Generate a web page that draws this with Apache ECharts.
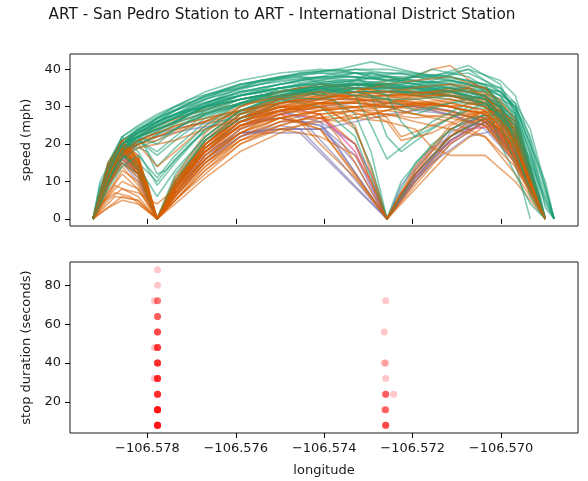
<!DOCTYPE html>
<html>
<head>
<meta charset="utf-8">
<script src="https://cdn.jsdelivr.net/npm/echarts@6/dist/echarts.min.js"></script>
<style>html,body{margin:0;padding:0;background:#fff;}#c{width:588px;height:481px;}</style>
</head>
<body>
<div id="c"></div>
<script>
// Longitude sample positions (index -> longitude)
const lonGrid = [-106.57923, -106.57907, -106.57889, -106.57873, -106.57857, -106.57839, -106.57821, -106.57801,
  -106.57778, -106.57758, -106.57737, -106.57703, -106.57669, -106.57631, -106.57590, -106.57545, -106.57500,
  -106.57455, -106.57409, -106.57369, -106.57330, -106.57294, -106.57258, -106.57226, -106.57194, -106.57156,
  -106.57115, -106.57074, -106.57036, -106.57002, -106.56968, -106.56934, -106.56900, -106.56880];

// Trips: [lonGrid index, speed mph]
const greenTrips = [
  [[0,0],[2,13],[4,20],[6,23],[8,26],[10,29],[12,32],[14,35],[16,37],[18,38],[20,38],[22,37],[24,36],[26,35],[28,33],[30,26],[32,0]],
  [[0,0],[1,7],[3,16],[5,21],[8,24],[11,28],[13,32],[15,34],[17,36],[19,37],[21,36],[23,35],[25,36],[27,35],[29,30],[31,14],[32,0]],
  [[0,0],[2,11],[4,18],[7,22],[10,26],[12,30],[14,33],[16,35],[18,36],[20,37],[22,36],[24,35],[26,33],[28,31],[30,22],[32,0]],
  [[0,0],[2,14],[5,22],[8,27],[11,31],[14,36],[17,39],[20,40],[22,39],[25,38],[27,37],[29,33],[30,28],[31,15],[33,0]],
  [[0,0],[2,11],[4,18],[6,15],[8,0],[9,5],[10,10],[12,20],[14,28],[16,33],[19,35],[22,35],[25,34],[28,31],[30,23],[32,0]],
  [[0,0],[1,8],[3,15],[6,20],[9,23],[12,28],[15,32],[18,34],[21,35],[23,34],[26,33],[28,31],[30,24],[32,0]],
  [[0,0],[2,12],[4,19],[6,22],[8,14],[10,19],[12,26],[14,31],[16,34],[19,36],[22,36],[25,35],[28,32],[30,23],[32,0]],
  [[0,0],[2,10],[4,17],[6,15],[8,10],[10,16],[12,24],[15,31],[18,35],[21,36],[24,35],[27,34],[29,31],[31,16],[32,0]],
  [[0,0],[2,12],[4,19],[6,22],[8,25],[11,29],[14,33],[17,35],[19,31],[20,24],[21,14],[22,0],[23,8],[24,15],[26,24],[28,28],[30,22],[32,0]],
  [[0,0],[2,15],[4,22],[7,26],[10,30],[13,34],[16,38],[19,40],[21,42],[23,40],[25,38],[27,39],[29,35],[30,29],[32,4],[33,0]],
  [[0,0],[1,9],[3,17],[6,22],[9,26],[12,31],[15,35],[17,37],[20,38],[23,37],[26,36],[28,35],[29,31],[30,26],[32,0]],
  [[0,0],[2,13],[4,20],[6,16],[7,8],[8,0],[10,12],[12,22],[14,29],[17,33],[20,34],[23,34],[26,33],[28,31],[30,21],[32,0]],
  [[0,0],[2,13],[5,21],[8,25],[11,29],[14,33],[17,36],[20,36],[22,30],[24,28],[26,31],[28,31],[30,21],[32,0]],
  [[0,0],[2,12],[4,19],[7,23],[10,27],[13,31],[16,34],[19,35],[21,33],[22,22],[23,18],[25,24],[27,30],[29,29],[31,12],[32,0]],
  [[0,0],[2,11],[5,20],[8,24],[11,28],[14,32],[17,35],[20,36],[23,36],[26,37],[28,36],[29,35],[30,31],[31,19],[32,0]],
  [[0,0],[2,14],[4,21],[6,24],[9,28],[12,33],[15,37],[18,39],[21,39],[24,37],[27,36],[29,34],[30,30],[32,10],[33,0]],
  [[0,0],[2,9],[4,15],[6,12],[8,0],[10,9],[12,19],[14,26],[16,31],[18,34],[21,35],[24,35],[27,34],[29,30],[31,12],[32,0]],
  [[0,0],[1,8],[3,16],[5,20],[7,18],[8,12],[9,13],[11,20],[13,27],[15,31],[17,34],[20,35],[23,34],[26,34],[28,32],[30,24],[32,0]],
  [[0,0],[2,11],[4,18],[7,22],[10,26],[13,30],[16,32],[18,30],[20,22],[22,0],[24,12],[26,22],[28,27],[30,20],[32,0]],
  [[0,0],[2,12],[4,20],[6,23],[9,27],[12,31],[14,34],[16,36],[18,37],[20,36],[22,35],[24,34],[26,35],[28,33],[29,27],[30,19],[31,7],[32,0]],
  [[0,0],[2,13],[4,21],[7,25],[10,28],[13,32],[16,35],[19,37],[22,38],[25,38],[27,41],[29,36],[30,28],[32,0]],
  [[0,0],[2,10],[4,18],[7,21],[10,25],[13,29],[16,33],[19,34],[22,34],[24,33],[26,32],[28,30],[30,22],[32,0]],
  [[0,0],[2,12],[4,18],[6,14],[8,0],[10,11],[12,21],[15,30],[18,34],[21,34],[24,34],[26,33],[28,31],[30,25],[32,0]],
  [[0,0],[2,12],[4,19],[6,22],[8,24],[11,27],[14,31],[17,34],[20,35],[23,35],[26,34],[28,33],[29,20],[30,12],[31,4],[32,0]],
  [[0,0],[2,14],[4,21],[6,24],[9,28],[12,32],[15,36],[18,38],[20,38],[22,37],[24,37],[26,36],[28,34],[30,30],[31,22],[33,0]],
  [[0,0],[2,11],[4,18],[6,21],[8,18],[10,22],[12,28],[14,32],[17,35],[20,36],[23,35],[26,34],[28,32],[30,22],[32,0]],
  [[0,0],[2,13],[4,20],[6,23],[9,27],[12,30],[15,33],[18,34],[20,28],[21,18],[22,0],[23,10],[25,20],[27,27],[29,28],[30,24],[32,0]],
  [[0,0],[2,12],[4,20],[7,24],[10,28],[13,31],[16,34],[19,36],[22,36],[25,35],[27,35],[29,34],[30,30],[31,20],[32,8],[33,0]],
  [[0,0],[2,13],[4,20],[6,23],[9,26],[12,30],[15,33],[18,35],[21,36],[24,35],[26,35],[28,30],[29,25],[30,15],[31,0]],
  [[0,0],[2,12],[5,21],[8,25],[11,30],[14,34],[17,37],[20,39],[23,39],[26,38],[28,36],[29,34],[30,29],[31,14],[32,0]],
  [[0,0],[2,9],[3,14],[5,19],[7,21],[9,24],[11,28],[13,33],[15,37],[17,38],[19,35],[21,39],[23,37],[25,40],[27,38],[29,33],[30,27],[32,0]],
  [[0,0],[2,14],[4,22],[6,18],[8,9],[10,15],[12,24],[14,30],[16,35],[18,37],[20,39],[22,37],[24,38],[26,37],[28,35],[30,28],[31,18],[33,0]],
  [[0,0],[1,10],[3,18],[5,22],[7,25],[9,27],[11,30],[13,34],[15,36],[17,39],[19,40],[21,38],[23,39],[25,37],[27,40],[29,37],[30,33],[31,21],[32,3],[33,0]],
  [[0,0],[2,12],[4,19],[6,21],[8,17],[10,21],[12,27],[15,33],[18,32],[20,35],[22,33],[24,36],[26,34],[28,31],[30,24],[32,0]],
  [[0,0],[2,13],[4,20],[6,24],[8,27],[10,30],[12,34],[14,37],[16,39],[18,40],[20,39],[22,38],[24,36],[26,37],[28,35],[29,31],[30,20],[31,6],[32,0]],
  [[0,0],[2,10],[4,16],[6,19],[8,21],[10,24],[12,28],[14,31],[16,33],[18,35],[20,33],[21,25],[22,16],[23,19],[25,26],[27,31],[29,30],[30,25],[32,0]],
  [[0,0],[2,12],[4,20],[6,23],[8,26],[10,28],[12,31],[14,34],[16,35],[18,33],[20,36],[22,35],[24,33],[26,34],[28,32],[29,28],[30,18],[31,8],[32,0]],
  [[0,0],[2,11],[4,17],[6,14],[8,6],[10,13],[12,22],[14,29],[16,33],[18,36],[20,37],[22,38],[24,37],[26,35],[28,33],[30,27],[32,0]],
  [[0,0],[2,14],[4,22],[6,25],[8,28],[11,32],[14,36],[17,38],[20,37],[23,36],[25,38],[27,36],[29,33],[30,31],[31,24],[33,0]],
  [[0,0],[2,12],[4,19],[6,22],[8,25],[10,27],[12,29],[14,32],[16,33],[18,35],[20,34],[22,32],[24,29],[26,31],[28,33],[30,26],[32,0]],
  [[0,0],[2,11],[4,18],[6,13],[8,0],[10,10],[12,21],[14,28],[16,32],[18,35],[20,36],[22,37],[24,36],[26,35],[28,34],[30,27],[32,0]],
  [[0,0],[2,13],[4,20],[6,23],[8,26],[10,29],[12,33],[14,36],[16,38],[18,39],[20,38],[22,33],[23,26],[24,22],[26,27],[28,31],[30,23],[32,0]],
  [[0,0],[2,10],[4,18],[6,22],[8,24],[10,26],[12,30],[14,33],[16,36],[18,38],[20,40],[22,40],[24,39],[26,38],[28,36],[29,30],[30,21],[31,11],[32,0]],
  [[0,0],[2,12],[4,20],[6,22],[8,20],[10,24],[12,29],[14,33],[16,35],[18,36],[20,35],[22,36],[24,38],[26,39],[27,40],[28,37],[29,34],[30,30],[32,5],[33,0]],
  [[0,0],[2,8],[4,14],[6,17],[8,11],[10,17],[12,25],[14,31],[16,34],[18,35],[20,33],[22,32],[24,32],[26,33],[28,32],[30,25],[32,0]]
];
const orangeTrips = [
  [[0,0],[2,12],[4,19],[6,15],[8,0],[10,8],[12,19],[14,27],[16,31],[18,33],[20,33],[22,32],[24,31],[26,30],[28,27],[30,18],[32,0]],
  [[0,0],[2,15],[4,21],[5,20],[7,10],[8,0],[10,10],[12,21],[14,28],[17,32],[20,32],[23,31],[26,29],[28,26],[30,17],[32,0]],
  [[0,0],[2,10],[4,16],[6,13],[8,0],[10,6],[12,16],[14,24],[16,29],[19,31],[22,31],[25,30],[28,26],[30,16],[32,0]],
  [[0,0],[3,16],[5,19],[7,10],[8,0],[10,9],[12,18],[14,26],[16,30],[18,33],[21,34],[24,34],[27,32],[29,29],[30,20],[32,0]],
  [[0,0],[2,7],[4,13],[6,10],[8,0],[10,5],[12,14],[14,22],[16,27],[19,30],[22,30],[25,29],[28,25],[30,15],[32,0]],
  [[0,0],[2,3],[4,6],[6,5],[8,0],[10,5],[12,13],[14,21],[16,26],[18,29],[21,30],[24,30],[27,28],[29,24],[30,14],[32,0]],
  [[0,0],[2,14],[4,20],[6,14],[8,0],[10,10],[12,22],[14,29],[16,32],[18,31],[20,24],[21,14],[22,0],[24,11],[26,22],[28,28],[30,18],[32,0]],
  [[0,0],[2,11],[4,17],[6,13],[8,0],[10,8],[12,18],[14,26],[16,29],[18,28],[20,20],[22,0],[24,10],[26,21],[28,26],[30,17],[32,0]],
  [[0,0],[2,12],[4,20],[6,17],[8,0],[10,9],[12,21],[14,29],[17,34],[20,36],[23,35],[26,36],[28,33],[30,22],[32,0]],
  [[0,0],[2,3],[4,5],[6,4],[8,0],[10,6],[12,15],[14,23],[16,28],[18,31],[21,32],[24,31],[27,30],[29,26],[30,16],[32,0]],
  [[0,0],[2,13],[4,19],[6,15],[8,0],[10,10],[12,20],[14,27],[16,31],[19,33],[22,33],[25,34],[27,33],[29,29],[30,21],[32,0]],
  [[0,0],[2,9],[4,15],[6,11],[8,0],[9,3],[11,12],[13,20],[15,26],[17,28],[19,26],[21,28],[23,30],[25,31],[27,29],[29,24],[30,18],[32,0]],
  [[0,0],[2,14],[4,21],[6,15],[8,0],[10,9],[12,20],[14,27],[16,30],[18,28],[19,22],[20,15],[22,0],[24,9],[26,20],[28,26],[30,16],[32,0]],
  [[0,0],[2,10],[4,16],[6,12],[8,0],[10,8],[12,18],[14,25],[16,28],[18,24],[22,0],[24,12],[26,22],[28,27],[30,17],[32,0]],
  [[0,0],[2,11],[4,19],[6,14],[8,0],[10,9],[12,20],[14,27],[16,30],[18,31],[20,31],[22,30],[24,28],[26,26],[28,22],[30,12],[32,0]],
  [[0,0],[2,7],[4,12],[6,8],[8,0],[10,6],[12,15],[14,22],[16,26],[18,27],[20,27],[22,26],[24,24],[25,19],[26,17],[28,17],[30,10],[32,0]],
  [[0,0],[2,13],[4,20],[6,16],[8,0],[10,8],[12,19],[14,27],[17,31],[20,34],[22,37],[24,38],[25,40],[26,41],[28,34],[30,20],[32,0]],
  [[0,0],[2,12],[4,19],[6,13],[8,0],[10,8],[12,19],[14,26],[16,29],[18,30],[20,25],[22,0],[24,13],[26,24],[28,29],[30,19],[32,0]],
  [[0,0],[2,14],[4,19],[6,14],[8,0],[10,9],[12,20],[14,27],[16,30],[19,31],[22,32],[25,31],[28,28],[30,19],[32,0]],
  [[0,0],[3,9],[6,6],[8,0],[10,7],[12,17],[14,24],[16,28],[18,30],[21,32],[24,33],[27,33],[29,30],[30,23],[32,0]],
  [[0,0],[2,10],[4,17],[6,13],[8,0],[10,10],[12,21],[14,28],[16,32],[18,34],[20,35],[22,34],[24,33],[26,32],[28,30],[30,24],[32,0]],
  [[0,0],[2,12],[4,18],[6,12],[8,0],[10,7],[12,17],[14,25],[16,29],[19,30],[21,27],[23,28],[25,31],[27,32],[29,28],[30,20],[32,0]],
  [[0,0],[2,14],[4,20],[6,22],[8,24],[11,27],[14,31],[17,33],[20,34],[23,33],[26,33],[28,31],[30,22],[32,0]],
  [[0,0],[2,12],[4,18],[6,21],[8,23],[11,26],[14,29],[17,31],[20,31],[23,30],[26,31],[28,29],[30,20],[32,0]],
  [[0,0],[2,15],[4,21],[6,23],[8,25],[11,28],[14,32],[17,35],[20,36],[22,35],[24,34],[26,33],[28,30],[30,21],[32,0]],
  [[0,0],[2,11],[4,18],[6,20],[8,14],[10,18],[12,25],[14,29],[17,32],[20,33],[23,33],[26,34],[28,34],[30,25],[32,0]],
  [[0,0],[2,10],[4,17],[6,20],[8,22],[11,25],[14,29],[17,32],[20,33],[22,27],[23,22],[25,25],[27,29],[29,28],[30,21],[32,0]],
  [[0,0],[2,13],[4,19],[7,22],[10,25],[13,28],[16,31],[19,32],[22,33],[25,34],[27,35],[29,32],[30,26],[32,0]],
  [[0,0],[2,5],[4,8],[6,7],[8,4],[10,8],[12,16],[14,23],[16,27],[18,29],[20,30],[23,31],[26,30],[28,28],[30,18],[32,0]],
  [[0,0],[1,4],[3,7],[5,6],[8,0],[10,5],[12,12],[14,20],[16,25],[18,28],[20,29],[22,28],[24,27],[26,28],[28,27],[30,17],[32,0]],
  [[0,0],[2,12],[4,19],[6,16],[8,0],[9,4],[11,14],[13,22],[15,27],[17,30],[19,32],[21,34],[23,32],[25,33],[27,35],[29,30],[30,24],[32,0]],
  [[0,0],[2,13],[4,20],[6,17],[8,0],[10,7],[12,15],[14,21],[16,24],[18,22],[20,17],[21,10],[22,0],[23,7],[25,18],[27,26],[29,27],[30,19],[32,0]],
  [[0,0],[2,8],[4,17],[6,21],[8,22],[10,24],[12,26],[14,28],[16,30],[18,29],[20,30],[22,31],[24,33],[26,35],[28,33],[30,23],[32,0]],
  [[0,0],[2,11],[4,18],[6,14],[8,0],[10,8],[12,18],[14,25],[16,29],[18,31],[20,30],[22,26],[23,21],[25,23],[27,28],[29,29],[30,22],[32,0]],
  [[0,0],[2,13],[4,20],[6,16],[8,0],[10,11],[12,23],[14,30],[16,34],[18,36],[20,35],[22,34],[24,35],[26,36],[28,35],[30,25],[32,0]],
  [[0,0],[2,10],[4,15],[6,12],[8,0],[10,7],[12,16],[14,23],[16,27],[17,26],[18,20],[20,11],[22,0],[24,8],[26,18],[28,25],[30,16],[32,0]],
  [[0,0],[2,6],[4,10],[6,8],[8,0],[10,4],[12,11],[14,18],[16,23],[18,27],[20,29],[22,30],[24,31],[26,32],[28,30],[30,22],[32,0]],
  [[0,0],[2,12],[4,18],[6,20],[8,21],[10,23],[12,26],[14,30],[16,33],[18,34],[20,32],[22,33],[24,32],[26,30],[28,31],[30,26],[31,12],[32,0]],
  [[0,0],[2,14],[4,21],[6,15],[8,0],[10,9],[12,19],[14,26],[16,29],[18,32],[20,34],[22,36],[24,37],[26,38],[28,35],[30,27],[32,0]],
  [[0,0],[2,9],[4,14],[6,9],[8,0],[10,5],[12,13],[14,20],[16,24],[18,26],[20,28],[22,28],[24,26],[26,24],[28,22],[30,14],[32,0]],
  [[0,0],[2,11],[4,18],[6,14],[8,0],[10,10],[12,20],[14,28],[16,32],[18,33],[20,32],[22,31],[24,32],[26,33],[28,32],[29,29],[30,24],[32,0]],
  [[0,0],[2,13],[4,19],[6,13],[8,0],[10,8],[12,18],[14,25],[16,27],[18,24],[19,18],[20,12],[22,0],[24,14],[26,25],[28,29],[30,20],[32,0]],
  [[0,0],[2,12],[4,17],[6,19],[8,20],[10,21],[12,24],[14,27],[16,29],[18,31],[20,33],[22,34],[24,33],[26,31],[28,29],[30,21],[32,0]],
  [[0,0],[3,6],[6,5],[8,0],[10,6],[12,14],[14,21],[16,25],[18,28],[20,29],[22,29],[24,28],[26,27],[28,25],[30,15],[32,0]],
  [[0,0],[2,11],[4,19],[6,16],[8,0],[10,9],[12,19],[14,26],[16,30],[18,30],[20,27],[22,29],[24,31],[26,30],[28,28],[30,19],[32,0]]
];
const purpleTrips = [
  [[0,0],[2,10],[4,17],[6,12],[8,0],[10,8],[12,18],[14,23],[16,24],[18,24],[19,20],[20,15],[22,0],[24,10],[26,20],[28,26],[30,17],[32,0]],
  [[0,0],[2,12],[4,18],[6,13],[8,0],[10,7],[12,16],[14,23],[16,23],[17,23],[22,0],[24,12],[26,22],[28,27],[30,18],[32,0]],
  [[0,0],[2,9],[4,15],[6,10],[8,0],[10,6],[12,15],[14,22],[16,26],[18,26],[20,20],[22,0],[23,6],[25,15],[27,22],[29,24],[30,16],[32,0]],
  [[0,0],[2,11],[4,17],[6,21],[8,23],[11,25],[14,27],[16,29],[18,26],[22,0],[24,11],[26,21],[28,27],[30,17],[32,0]],
  [[0,0],[2,10],[4,16],[6,11],[8,0],[10,7],[12,17],[14,24],[16,28],[18,30],[20,31],[22,30],[24,30],[26,29],[28,26],[30,16],[32,0]],
  [[0,0],[2,12],[4,19],[6,14],[8,0],[10,8],[12,19],[14,26],[16,29],[17,27],[19,16],[22,0],[24,10],[26,23],[28,28],[30,18],[32,0]],
  [[0,0],[2,11],[4,18],[6,13],[8,0],[10,9],[12,20],[14,27],[16,31],[18,32],[20,32],[22,31],[24,30],[26,28],[28,24],[30,15],[32,0]],
  [[0,0],[2,9],[4,16],[6,20],[8,22],[11,24],[14,26],[16,27],[18,25],[20,17],[22,0],[24,13],[26,24],[28,28],[30,19],[32,0]],
  [[0,0],[2,11],[4,17],[6,13],[8,0],[10,8],[12,17],[14,23],[16,24],[18,24],[20,26],[22,28],[24,29],[26,28],[28,25],[30,16],[32,0]],
  [[0,0],[2,10],[4,16],[6,12],[8,0],[10,7],[12,16],[14,22],[16,25],[17,24],[22,0],[24,11],[26,21],[28,26],[30,17],[32,0]],
  [[0,0],[2,12],[4,18],[6,14],[8,0],[10,9],[12,19],[14,25],[16,27],[18,25],[19,19],[22,0],[23,9],[25,19],[27,25],[29,26],[30,18],[32,0]]
];
const pinkTrips = [
  [[0,0],[2,11],[4,18],[6,13],[8,0],[10,9],[12,20],[14,27],[16,30],[18,28],[20,18],[22,0],[23,7],[25,17],[27,24],[29,25],[30,17],[32,0]],
  [[0,0],[2,10],[4,17],[6,12],[8,0],[10,8],[12,18],[14,25],[16,28],[18,27],[20,20],[21,12],[22,0],[24,12],[26,22],[28,27],[30,18],[32,0]]
];

// Stop events: longitude and stop duration (s)
const stopLon = [
  -106.57777,-106.57777,-106.57777,-106.57777,-106.57777,-106.57777,-106.57777,-106.57777,-106.57777,-106.57777,
  -106.57777,-106.57777,-106.57777,-106.57777,-106.57777,-106.57777,-106.57777,-106.57777,-106.57777,-106.57777,
  -106.57777,-106.57777,-106.57777,-106.57777,-106.57777,-106.57777,-106.57777,
  -106.57777,-106.57777,-106.57777,-106.57777,-106.57777,-106.57777,-106.57777,-106.57784,
  -106.57777,-106.57777,-106.57777,-106.57777,-106.57777,-106.57777,-106.57777,
  -106.57777,-106.57777,-106.57777,-106.57777,-106.57777,-106.57777,-106.57784,
  -106.57777,-106.57777,-106.57777,-106.57777,-106.57777,
  -106.57777,-106.57777,-106.57777,-106.57777,
  -106.57777,-106.57777,-106.57777,-106.57784,
  -106.57777,-106.57777,
  -106.57261,-106.57261,-106.57261,-106.57261,-106.57261,
  -106.57261,-106.57261,-106.57261,-106.57264,
  -106.57261,-106.57261,-106.57261,-106.57261,-106.57243,
  -106.57261,
  -106.57261,-106.57264,
  -106.57264,
  -106.57261
];
const stopDur = [
  8,8,8,8,8,8,8,8,8,8,
  16,16,16,16,16,16,16,16,16,16,
  24,24,24,24,24,24,24,
  32,32,32,32,32,32,32,32,
  40,40,40,40,40,40,40,
  48,48,48,48,48,48,48,
  56,56,56,56,56,
  64,64,64,64,
  72,72,72,72,
  80,88,
  8,8,8,8,8,
  16,16,16,16,
  24,24,24,24,24,
  32,
  40,40,
  56,
  72
];

const xTicks = [-106.578, -106.576, -106.574, -106.572, -106.570];
const speedTicks = [0, 10, 20, 30, 40];
const durTicks = [20, 40, 60, 80];

const palette = ['#1b9e77', '#d95f02', '#7570b3', '#e7298a'];
const FONT = 'DejaVu Sans';
const TXT = '#1a1a1a';

function xAxisCfg(idx, showLabels) {
  return {
    type: 'value', gridIndex: idx,
    min: -106.57975, max: -106.56826,
    splitLine: { show: false },
    axisLine: { show: false },
    axisTick: { show: true, inside: false, length: 5, customValues: xTicks, lineStyle: { color: '#000', width: 1 } },
    axisLabel: {
      show: showLabels, customValues: xTicks, margin: 9,
      color: TXT, fontFamily: FONT, fontSize: 13,
      formatter: v => '\u2212' + Math.abs(v).toFixed(3)
    },
    name: showLabels ? 'longitude' : '', nameLocation: 'middle', nameGap: 31,
    nameTextStyle: { color: TXT, fontFamily: FONT, fontSize: 13 }
  };
}
function yAxisCfg(idx, min, max, ticks, name) {
  return {
    type: 'value', gridIndex: idx, min: min, max: max,
    splitLine: { show: false },
    axisLine: { show: false },
    axisTick: { show: true, length: 5, customValues: ticks, lineStyle: { color: '#000', width: 1 } },
    axisLabel: { customValues: ticks, margin: 9, color: TXT, fontFamily: FONT, fontSize: 13 },
    name: name, nameLocation: 'middle', nameGap: 36, nameRotate: 90,
    nameTextStyle: { color: TXT, fontFamily: FONT, fontSize: 13 }
  };
}

// Interleave groups for drawing order
const groups = [greenTrips, orangeTrips, purpleTrips, pinkTrips];
const ordered = [];
const maxLen = Math.max(...groups.map(g => g.length));
for (let i = 0; i < maxLen; i++) {
  groups.forEach((g, gi) => { if (i < g.length) ordered.push({ g: gi, pts: g[i] }); });
}

const series = ordered.map(t => ({
  type: 'line', xAxisIndex: 0, yAxisIndex: 0,
  data: t.pts.map(p => [lonGrid[p[0]], p[1]]),
  symbol: 'none', silent: true, animation: false,
  lineStyle: { color: palette[t.g], width: 1.6, opacity: 0.55 },
  z: 2
}));
series.push({
  type: 'scatter', xAxisIndex: 1, yAxisIndex: 1,
  data: stopLon.map((x, i) => [x, stopDur[i]]),
  symbol: 'circle', symbolSize: 7, silent: true, animation: false,
  itemStyle: { color: 'rgb(255,0,0)', opacity: 0.22 }
});

const chart = echarts.init(document.getElementById('c'), null, { renderer: 'canvas' });
chart.setOption({
  backgroundColor: '#fff',
  animation: false,
  title: {
    text: 'ART - San Pedro Station to ART - International District Station',
    left: 277, top: 3, textAlign: 'center',
    textStyle: { color: TXT, fontFamily: FONT, fontSize: 15.3, fontWeight: 'normal' }
  },
  grid: [
    { left: 70, top: 54, width: 508, height: 172, show: true, borderColor: '#1a1a1a', borderWidth: 1, backgroundColor: 'transparent' },
    { left: 70, top: 262, width: 508, height: 171, show: true, borderColor: '#1a1a1a', borderWidth: 1, backgroundColor: 'transparent' }
  ],
  xAxis: [xAxisCfg(0, false), xAxisCfg(1, true)],
  yAxis: [
    yAxisCfg(0, -1.9, 44.1, speedTicks, 'speed (mph)'),
    yAxisCfg(1, 4, 92, durTicks, 'stop duration (seconds)')
  ],
  series: series
});
</script>
</body>
</html>
